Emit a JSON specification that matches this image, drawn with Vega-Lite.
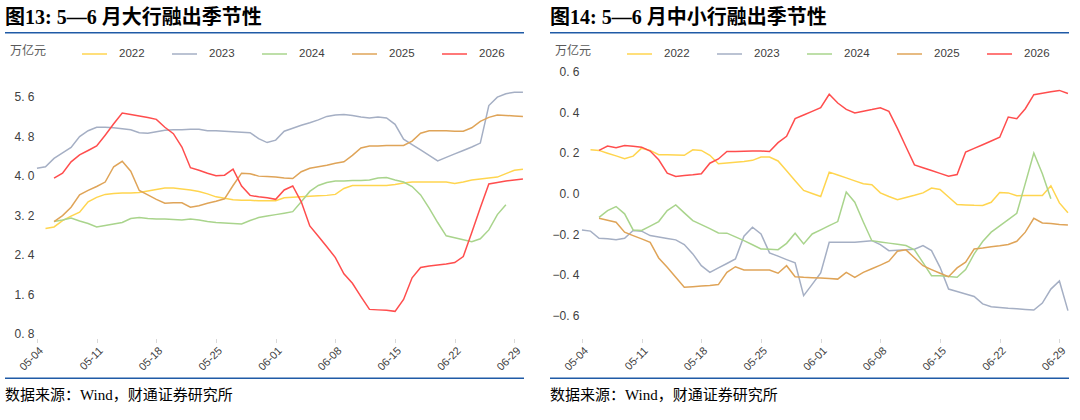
{
  "$schema": "https://vega.github.io/schema/vega-lite/v6.json",
  "background": "white",
  "padding": {"left": 5, "top": 8, "right": 5, "bottom": 5},
  "config": {
    "view": {"stroke": null},
    "font": "Liberation Sans",
    "axisX": {
      "format": "%m-%d", "labelAngle": -45, "labelFontSize": 11, "labelColor": "#404040",
      "tickSize": 4, "tickColor": "#d9d9d9", "domain": false, "grid": false,
      "title": null, "labelPadding": 2, "labelFlush": false, "labelOverlap": false
    },
    "axisY": {
      "domain": false, "ticks": false, "grid": false, "title": null, "offset": -32,
      "labelPadding": 3, "labelFontSize": 12, "labelColor": "#404040",
      "labelExpr": "replace(format(datum.value, '.1f'), '.', '. ')"
    },
    "legend": {
      "orient": "none", "legendX": 1, "legendY": -35, "direction": "horizontal", "columns": 5,
      "titleOrient": "left", "titlePadding": 34, "titleFont": "Noto Sans CJK SC",
      "titleFontSize": 12, "titleFontWeight": "normal", "titleColor": "#595959",
      "symbolType": "stroke", "symbolSize": 625, "symbolStrokeWidth": 1.5,
      "labelFontSize": 11.5, "labelColor": "#404040", "labelOffset": 11, "columnPadding": 24,
      "padding": 4
    },
    "title": {"font": "'Liberation Serif', 'Noto Sans CJK SC'", "color": "#000000", "anchor": "start"}
  },
  "resolve": {"scale": {"color": "independent"}, "legend": {"color": "independent"}},
  "columns": 2,
  "align": "none",
  "spacing": 24,
  "concat": [
    {
      "resolve": {"scale": {"color": "independent"}, "legend": {"color": "independent"}},
      "concat": [
        {
          "width": 519, "height": 1.5,
          "data": {"values": []},
          "mark": "point", "encoding": {},
          "view": {"fill": "#1F5AA6", "stroke": null},
          "title": {"text": "图13: 5—6 月大行融出季节性", "offset": 4, "fontSize": 20, "fontWeight": "bold"}
        },
        {
          "resolve": {"scale": {"color": "independent"}, "legend": {"color": "independent"}},
          "concat": [
            {
              "width": 519, "height": 267,
              "data": {
                "format": {"parse": {"d": "date:'%m-%d'"}},
                "values": [
                  {"d":"05-05","s":"2022","v":2.93},{"d":"05-06","s":"2022","v":2.96},{"d":"05-07","s":"2022","v":3.09},{"d":"05-08","s":"2022","v":3.18},{"d":"05-09","s":"2022","v":3.26},{"d":"05-10","s":"2022","v":3.47},{"d":"05-11","s":"2022","v":3.56},{"d":"05-12","s":"2022","v":3.62},{"d":"05-13","s":"2022","v":3.64},{"d":"05-14","s":"2022","v":3.65},{"d":"05-15","s":"2022","v":3.65},{"d":"05-16","s":"2022","v":3.66},{"d":"05-17","s":"2022","v":3.69},{"d":"05-18","s":"2022","v":3.72},{"d":"05-19","s":"2022","v":3.75},{"d":"05-20","s":"2022","v":3.75},{"d":"05-21","s":"2022","v":3.73},{"d":"05-22","s":"2022","v":3.71},{"d":"05-23","s":"2022","v":3.68},{"d":"05-24","s":"2022","v":3.63},{"d":"05-25","s":"2022","v":3.57},{"d":"05-26","s":"2022","v":3.54},{"d":"05-27","s":"2022","v":3.51},{"d":"05-28","s":"2022","v":3.50},{"d":"05-29","s":"2022","v":3.50},{"d":"05-30","s":"2022","v":3.49},{"d":"05-31","s":"2022","v":3.49},{"d":"06-01","s":"2022","v":3.49},{"d":"06-02","s":"2022","v":3.55},{"d":"06-03","s":"2022","v":3.56},{"d":"06-04","s":"2022","v":3.57},{"d":"06-05","s":"2022","v":3.58},{"d":"06-06","s":"2022","v":3.59},{"d":"06-07","s":"2022","v":3.60},{"d":"06-08","s":"2022","v":3.62},{"d":"06-09","s":"2022","v":3.74},{"d":"06-10","s":"2022","v":3.80},{"d":"06-11","s":"2022","v":3.80},{"d":"06-12","s":"2022","v":3.80},{"d":"06-13","s":"2022","v":3.80},{"d":"06-14","s":"2022","v":3.80},{"d":"06-15","s":"2022","v":3.82},{"d":"06-16","s":"2022","v":3.85},{"d":"06-17","s":"2022","v":3.87},{"d":"06-18","s":"2022","v":3.87},{"d":"06-19","s":"2022","v":3.87},{"d":"06-20","s":"2022","v":3.87},{"d":"06-21","s":"2022","v":3.87},{"d":"06-22","s":"2022","v":3.84},{"d":"06-23","s":"2022","v":3.87},{"d":"06-24","s":"2022","v":3.91},{"d":"06-25","s":"2022","v":3.93},{"d":"06-26","s":"2022","v":3.95},{"d":"06-27","s":"2022","v":3.97},{"d":"06-28","s":"2022","v":4.04},{"d":"06-29","s":"2022","v":4.11},{"d":"06-30","s":"2022","v":4.13},
                  {"d":"05-04","s":"2023","v":4.15},{"d":"05-05","s":"2023","v":4.18},{"d":"05-06","s":"2023","v":4.35},{"d":"05-07","s":"2023","v":4.46},{"d":"05-08","s":"2023","v":4.57},{"d":"05-09","s":"2023","v":4.79},{"d":"05-10","s":"2023","v":4.91},{"d":"05-11","s":"2023","v":4.98},{"d":"05-12","s":"2023","v":4.98},{"d":"05-13","s":"2023","v":4.97},{"d":"05-14","s":"2023","v":4.95},{"d":"05-15","s":"2023","v":4.93},{"d":"05-16","s":"2023","v":4.87},{"d":"05-17","s":"2023","v":4.86},{"d":"05-18","s":"2023","v":4.89},{"d":"05-19","s":"2023","v":4.92},{"d":"05-20","s":"2023","v":4.93},{"d":"05-21","s":"2023","v":4.93},{"d":"05-22","s":"2023","v":4.94},{"d":"05-23","s":"2023","v":4.94},{"d":"05-24","s":"2023","v":4.91},{"d":"05-25","s":"2023","v":4.91},{"d":"05-26","s":"2023","v":4.90},{"d":"05-27","s":"2023","v":4.89},{"d":"05-28","s":"2023","v":4.88},{"d":"05-29","s":"2023","v":4.87},{"d":"05-30","s":"2023","v":4.75},{"d":"05-31","s":"2023","v":4.67},{"d":"06-01","s":"2023","v":4.72},{"d":"06-02","s":"2023","v":4.90},{"d":"06-03","s":"2023","v":4.96},{"d":"06-04","s":"2023","v":5.02},{"d":"06-05","s":"2023","v":5.07},{"d":"06-06","s":"2023","v":5.13},{"d":"06-07","s":"2023","v":5.20},{"d":"06-08","s":"2023","v":5.23},{"d":"06-09","s":"2023","v":5.24},{"d":"06-10","s":"2023","v":5.22},{"d":"06-11","s":"2023","v":5.19},{"d":"06-12","s":"2023","v":5.17},{"d":"06-13","s":"2023","v":5.19},{"d":"06-14","s":"2023","v":5.17},{"d":"06-15","s":"2023","v":5.04},{"d":"06-16","s":"2023","v":4.74},{"d":"06-17","s":"2023","v":4.63},{"d":"06-18","s":"2023","v":4.52},{"d":"06-19","s":"2023","v":4.41},{"d":"06-20","s":"2023","v":4.30},{"d":"06-21","s":"2023","v":4.37},{"d":"06-22","s":"2023","v":4.44},{"d":"06-23","s":"2023","v":4.51},{"d":"06-24","s":"2023","v":4.58},{"d":"06-25","s":"2023","v":4.66},{"d":"06-26","s":"2023","v":5.42},{"d":"06-27","s":"2023","v":5.59},{"d":"06-28","s":"2023","v":5.66},{"d":"06-29","s":"2023","v":5.69},{"d":"06-30","s":"2023","v":5.69},
                  {"d":"05-06","s":"2024","v":3.07},{"d":"05-07","s":"2024","v":3.10},{"d":"05-08","s":"2024","v":3.14},{"d":"05-09","s":"2024","v":3.08},{"d":"05-10","s":"2024","v":3.03},{"d":"05-11","s":"2024","v":2.96},{"d":"05-12","s":"2024","v":2.99},{"d":"05-13","s":"2024","v":3.02},{"d":"05-14","s":"2024","v":3.05},{"d":"05-15","s":"2024","v":3.13},{"d":"05-16","s":"2024","v":3.15},{"d":"05-17","s":"2024","v":3.13},{"d":"05-18","s":"2024","v":3.12},{"d":"05-19","s":"2024","v":3.12},{"d":"05-20","s":"2024","v":3.11},{"d":"05-21","s":"2024","v":3.10},{"d":"05-22","s":"2024","v":3.12},{"d":"05-23","s":"2024","v":3.10},{"d":"05-24","s":"2024","v":3.07},{"d":"05-25","s":"2024","v":3.05},{"d":"05-26","s":"2024","v":3.04},{"d":"05-27","s":"2024","v":3.03},{"d":"05-28","s":"2024","v":3.02},{"d":"05-29","s":"2024","v":3.09},{"d":"05-30","s":"2024","v":3.15},{"d":"05-31","s":"2024","v":3.18},{"d":"06-01","s":"2024","v":3.21},{"d":"06-02","s":"2024","v":3.24},{"d":"06-03","s":"2024","v":3.27},{"d":"06-04","s":"2024","v":3.47},{"d":"06-05","s":"2024","v":3.68},{"d":"06-06","s":"2024","v":3.80},{"d":"06-07","s":"2024","v":3.86},{"d":"06-08","s":"2024","v":3.89},{"d":"06-09","s":"2024","v":3.89},{"d":"06-10","s":"2024","v":3.90},{"d":"06-11","s":"2024","v":3.90},{"d":"06-12","s":"2024","v":3.91},{"d":"06-13","s":"2024","v":3.95},{"d":"06-14","s":"2024","v":3.96},{"d":"06-15","s":"2024","v":3.91},{"d":"06-16","s":"2024","v":3.87},{"d":"06-17","s":"2024","v":3.78},{"d":"06-18","s":"2024","v":3.61},{"d":"06-19","s":"2024","v":3.34},{"d":"06-20","s":"2024","v":3.05},{"d":"06-21","s":"2024","v":2.78},{"d":"06-22","s":"2024","v":2.74},{"d":"06-23","s":"2024","v":2.70},{"d":"06-24","s":"2024","v":2.66},{"d":"06-25","s":"2024","v":2.72},{"d":"06-26","s":"2024","v":2.90},{"d":"06-27","s":"2024","v":3.21},{"d":"06-28","s":"2024","v":3.41},
                  {"d":"05-06","s":"2025","v":3.07},{"d":"05-07","s":"2025","v":3.19},{"d":"05-08","s":"2025","v":3.36},{"d":"05-09","s":"2025","v":3.61},{"d":"05-10","s":"2025","v":3.70},{"d":"05-11","s":"2025","v":3.78},{"d":"05-12","s":"2025","v":3.87},{"d":"05-13","s":"2025","v":4.18},{"d":"05-14","s":"2025","v":4.29},{"d":"05-15","s":"2025","v":4.09},{"d":"05-16","s":"2025","v":3.70},{"d":"05-17","s":"2025","v":3.61},{"d":"05-18","s":"2025","v":3.52},{"d":"05-19","s":"2025","v":3.44},{"d":"05-20","s":"2025","v":3.45},{"d":"05-21","s":"2025","v":3.45},{"d":"05-22","s":"2025","v":3.36},{"d":"05-23","s":"2025","v":3.39},{"d":"05-24","s":"2025","v":3.44},{"d":"05-25","s":"2025","v":3.48},{"d":"05-26","s":"2025","v":3.53},{"d":"05-27","s":"2025","v":3.80},{"d":"05-28","s":"2025","v":4.05},{"d":"05-29","s":"2025","v":4.04},{"d":"05-30","s":"2025","v":3.99},{"d":"05-31","s":"2025","v":3.98},{"d":"06-01","s":"2025","v":3.97},{"d":"06-02","s":"2025","v":3.95},{"d":"06-03","s":"2025","v":3.94},{"d":"06-04","s":"2025","v":4.08},{"d":"06-05","s":"2025","v":4.15},{"d":"06-06","s":"2025","v":4.18},{"d":"06-07","s":"2025","v":4.21},{"d":"06-08","s":"2025","v":4.25},{"d":"06-09","s":"2025","v":4.28},{"d":"06-10","s":"2025","v":4.41},{"d":"06-11","s":"2025","v":4.56},{"d":"06-12","s":"2025","v":4.60},{"d":"06-13","s":"2025","v":4.60},{"d":"06-14","s":"2025","v":4.61},{"d":"06-15","s":"2025","v":4.61},{"d":"06-16","s":"2025","v":4.61},{"d":"06-17","s":"2025","v":4.70},{"d":"06-18","s":"2025","v":4.86},{"d":"06-19","s":"2025","v":4.91},{"d":"06-20","s":"2025","v":4.91},{"d":"06-21","s":"2025","v":4.91},{"d":"06-22","s":"2025","v":4.90},{"d":"06-23","s":"2025","v":4.90},{"d":"06-24","s":"2025","v":4.97},{"d":"06-25","s":"2025","v":5.10},{"d":"06-26","s":"2025","v":5.18},{"d":"06-27","s":"2025","v":5.23},{"d":"06-28","s":"2025","v":5.22},{"d":"06-29","s":"2025","v":5.21},{"d":"06-30","s":"2025","v":5.20},
                  {"d":"05-06","s":"2026","v":3.95},{"d":"05-07","s":"2026","v":4.05},{"d":"05-08","s":"2026","v":4.28},{"d":"05-09","s":"2026","v":4.42},{"d":"05-10","s":"2026","v":4.51},{"d":"05-11","s":"2026","v":4.60},{"d":"05-12","s":"2026","v":4.82},{"d":"05-13","s":"2026","v":5.05},{"d":"05-14","s":"2026","v":5.27},{"d":"05-15","s":"2026","v":5.24},{"d":"05-16","s":"2026","v":5.21},{"d":"05-17","s":"2026","v":5.18},{"d":"05-18","s":"2026","v":5.14},{"d":"05-19","s":"2026","v":4.98},{"d":"05-20","s":"2026","v":4.85},{"d":"05-21","s":"2026","v":4.58},{"d":"05-22","s":"2026","v":4.16},{"d":"05-23","s":"2026","v":4.11},{"d":"05-24","s":"2026","v":4.05},{"d":"05-25","s":"2026","v":4.00},{"d":"05-26","s":"2026","v":4.01},{"d":"05-27","s":"2026","v":4.13},{"d":"05-28","s":"2026","v":3.79},{"d":"05-29","s":"2026","v":3.60},{"d":"05-30","s":"2026","v":3.57},{"d":"05-31","s":"2026","v":3.55},{"d":"06-01","s":"2026","v":3.52},{"d":"06-02","s":"2026","v":3.71},{"d":"06-03","s":"2026","v":3.79},{"d":"06-04","s":"2026","v":3.47},{"d":"06-05","s":"2026","v":2.98},{"d":"06-06","s":"2026","v":2.77},{"d":"06-07","s":"2026","v":2.56},{"d":"06-08","s":"2026","v":2.34},{"d":"06-09","s":"2026","v":2.01},{"d":"06-10","s":"2026","v":1.82},{"d":"06-11","s":"2026","v":1.55},{"d":"06-12","s":"2026","v":1.29},{"d":"06-13","s":"2026","v":1.28},{"d":"06-14","s":"2026","v":1.27},{"d":"06-15","s":"2026","v":1.25},{"d":"06-16","s":"2026","v":1.49},{"d":"06-17","s":"2026","v":1.93},{"d":"06-18","s":"2026","v":2.14},{"d":"06-19","s":"2026","v":2.17},{"d":"06-20","s":"2026","v":2.19},{"d":"06-21","s":"2026","v":2.21},{"d":"06-22","s":"2026","v":2.24},{"d":"06-23","s":"2026","v":2.36},{"d":"06-24","s":"2026","v":2.85},{"d":"06-25","s":"2026","v":3.35},{"d":"06-26","s":"2026","v":3.83},{"d":"06-27","s":"2026","v":3.86},{"d":"06-28","s":"2026","v":3.89},{"d":"06-29","s":"2026","v":3.91},{"d":"06-30","s":"2026","v":3.93}
                ]
              },
              "encoding": {
                "x": {"field": "d", "type": "temporal",
                  "scale": {"domain": [{"year": 1900, "month": 4, "date": 30, "hours": 6}, {"year": 1900, "month": 6, "date": 30, "hours": 3}]},
                  "axis": {"values": [
                    {"year": 1900, "month": 5, "date": 4}, {"year": 1900, "month": 5, "date": 11},
                    {"year": 1900, "month": 5, "date": 18}, {"year": 1900, "month": 5, "date": 25},
                    {"year": 1900, "month": 6, "date": 1}, {"year": 1900, "month": 6, "date": 8},
                    {"year": 1900, "month": 6, "date": 15}, {"year": 1900, "month": 6, "date": 22},
                    {"year": 1900, "month": 6, "date": 29}]}},
                "y": {"field": "v", "type": "quantitative", "scale": {"domain": [0.7, 6.11], "nice": false, "zero": false}, "axis": {"values": [0.8, 1.6, 2.4, 3.2, 4.0, 4.8, 5.6]}}
              },
              "layer": [
                {
                  "data": {"values": [{}]},
                  "mark": {"type": "rule", "color": "#d9d9d9", "strokeWidth": 1},
                  "encoding": {
                    "x": {"datum": {"year": 1900, "month": 5, "date": 4}, "type": "temporal"},
                    "x2": {"datum": {"year": 1900, "month": 6, "date": 30}},
                    "y": {"datum": 0.7, "type": "quantitative"}
                  }
                },
                {
                  "mark": {"type": "line", "strokeWidth": 1.5},
                  "encoding": {
                    "color": {"field": "s", "type": "nominal", "title": "万亿元",
                      "scale": {"domain": ["2022", "2023", "2024", "2025", "2026"], "range": ["#FFD54F", "#A5AFC4", "#A9D48C", "#DFA458", "#FF4D4D"]}}
                  }
                },
                {
                  "transform": [{"filter": {"and": [{"field": "s", "equal": "2026"}, {"field": "d", "equal": {"year": 1900, "month": 6, "date": 30}}]}}],
                  "mark": {"type": "point", "filled": true, "size": 14, "opacity": 1, "color": "#FF4D4D"}
                }
              ]
            },
            {
              "width": 519, "height": 1.5,
              "data": {"values": []},
              "mark": "point", "encoding": {},
              "view": {"fill": "#1F5AA6", "stroke": null},
              "title": {"text": "数据来源：Wind，财通证券研究所", "orient": "bottom", "offset": 9, "fontSize": 15, "fontWeight": "normal"}
            }
          ],
          "columns": 1, "align": "none", "spacing": 5
        }
      ],
      "columns": 1, "align": "none", "spacing": 2.5
    },
    {
      "resolve": {"scale": {"color": "independent"}, "legend": {"color": "independent"}},
      "concat": [
        {
          "width": 519, "height": 1.5,
          "data": {"values": []},
          "mark": "point", "encoding": {},
          "view": {"fill": "#1F5AA6", "stroke": null},
          "title": {"text": "图14: 5—6 月中小行融出季节性", "offset": 4, "fontSize": 20, "fontWeight": "bold"}
        },
        {
          "resolve": {"scale": {"color": "independent"}, "legend": {"color": "independent"}},
          "concat": [
            {
              "width": 519, "height": 267,
              "data": {
                "format": {"parse": {"d": "date:'%m-%d'"}},
                "values": [
                  {"d":"05-05","s":"2022","v":0.215},{"d":"05-06","s":"2022","v":0.212},{"d":"05-07","s":"2022","v":0.198},{"d":"05-08","s":"2022","v":0.185},{"d":"05-09","s":"2022","v":0.171},{"d":"05-10","s":"2022","v":0.184},{"d":"05-11","s":"2022","v":0.223},{"d":"05-12","s":"2022","v":0.212},{"d":"05-13","s":"2022","v":0.191},{"d":"05-14","s":"2022","v":0.190},{"d":"05-15","s":"2022","v":0.189},{"d":"05-16","s":"2022","v":0.188},{"d":"05-17","s":"2022","v":0.215},{"d":"05-18","s":"2022","v":0.212},{"d":"05-19","s":"2022","v":0.188},{"d":"05-20","s":"2022","v":0.146},{"d":"05-21","s":"2022","v":0.150},{"d":"05-22","s":"2022","v":0.154},{"d":"05-23","s":"2022","v":0.158},{"d":"05-24","s":"2022","v":0.163},{"d":"05-25","s":"2022","v":0.179},{"d":"05-26","s":"2022","v":0.179},{"d":"05-27","s":"2022","v":0.160},{"d":"05-28","s":"2022","v":0.112},{"d":"05-29","s":"2022","v":0.063},{"d":"05-30","s":"2022","v":0.015},{"d":"05-31","s":"2022","v":0.000},{"d":"06-01","s":"2022","v":-0.015},{"d":"06-02","s":"2022","v":0.105},{"d":"06-03","s":"2022","v":0.091},{"d":"06-04","s":"2022","v":0.077},{"d":"06-05","s":"2022","v":0.062},{"d":"06-06","s":"2022","v":0.048},{"d":"06-07","s":"2022","v":0.043},{"d":"06-08","s":"2022","v":0.003},{"d":"06-09","s":"2022","v":-0.015},{"d":"06-10","s":"2022","v":-0.031},{"d":"06-11","s":"2022","v":-0.020},{"d":"06-12","s":"2022","v":-0.009},{"d":"06-13","s":"2022","v":0.003},{"d":"06-14","s":"2022","v":0.027},{"d":"06-15","s":"2022","v":0.020},{"d":"06-16","s":"2022","v":-0.017},{"d":"06-17","s":"2022","v":-0.054},{"d":"06-18","s":"2022","v":-0.056},{"d":"06-19","s":"2022","v":-0.058},{"d":"06-20","s":"2022","v":-0.059},{"d":"06-21","s":"2022","v":-0.043},{"d":"06-22","s":"2022","v":0.005},{"d":"06-23","s":"2022","v":0.003},{"d":"06-24","s":"2022","v":-0.011},{"d":"06-25","s":"2022","v":-0.010},{"d":"06-26","s":"2022","v":-0.010},{"d":"06-27","s":"2022","v":-0.010},{"d":"06-28","s":"2022","v":0.038},{"d":"06-29","s":"2022","v":-0.046},{"d":"06-30","s":"2022","v":-0.095},
                  {"d":"05-04","s":"2023","v":-0.179},{"d":"05-05","s":"2023","v":-0.185},{"d":"05-06","s":"2023","v":-0.220},{"d":"05-07","s":"2023","v":-0.222},{"d":"05-08","s":"2023","v":-0.227},{"d":"05-09","s":"2023","v":-0.220},{"d":"05-10","s":"2023","v":-0.182},{"d":"05-11","s":"2023","v":-0.185},{"d":"05-12","s":"2023","v":-0.207},{"d":"05-13","s":"2023","v":-0.214},{"d":"05-14","s":"2023","v":-0.221},{"d":"05-15","s":"2023","v":-0.228},{"d":"05-16","s":"2023","v":-0.251},{"d":"05-17","s":"2023","v":-0.297},{"d":"05-18","s":"2023","v":-0.355},{"d":"05-19","s":"2023","v":-0.388},{"d":"05-20","s":"2023","v":-0.366},{"d":"05-21","s":"2023","v":-0.344},{"d":"05-22","s":"2023","v":-0.322},{"d":"05-23","s":"2023","v":-0.210},{"d":"05-24","s":"2023","v":-0.166},{"d":"05-25","s":"2023","v":-0.199},{"d":"05-26","s":"2023","v":-0.292},{"d":"05-27","s":"2023","v":-0.308},{"d":"05-28","s":"2023","v":-0.325},{"d":"05-29","s":"2023","v":-0.341},{"d":"05-30","s":"2023","v":-0.502},{"d":"05-31","s":"2023","v":-0.447},{"d":"06-01","s":"2023","v":-0.391},{"d":"06-02","s":"2023","v":-0.240},{"d":"06-03","s":"2023","v":-0.240},{"d":"06-04","s":"2023","v":-0.240},{"d":"06-05","s":"2023","v":-0.240},{"d":"06-06","s":"2023","v":-0.236},{"d":"06-07","s":"2023","v":-0.232},{"d":"06-08","s":"2023","v":-0.251},{"d":"06-09","s":"2023","v":-0.281},{"d":"06-10","s":"2023","v":-0.279},{"d":"06-11","s":"2023","v":-0.277},{"d":"06-12","s":"2023","v":-0.274},{"d":"06-13","s":"2023","v":-0.256},{"d":"06-14","s":"2023","v":-0.281},{"d":"06-15","s":"2023","v":-0.363},{"d":"06-16","s":"2023","v":-0.470},{"d":"06-17","s":"2023","v":-0.482},{"d":"06-18","s":"2023","v":-0.494},{"d":"06-19","s":"2023","v":-0.506},{"d":"06-20","s":"2023","v":-0.543},{"d":"06-21","s":"2023","v":-0.557},{"d":"06-22","s":"2023","v":-0.560},{"d":"06-23","s":"2023","v":-0.564},{"d":"06-24","s":"2023","v":-0.567},{"d":"06-25","s":"2023","v":-0.570},{"d":"06-26","s":"2023","v":-0.573},{"d":"06-27","s":"2023","v":-0.539},{"d":"06-28","s":"2023","v":-0.470},{"d":"06-29","s":"2023","v":-0.430},{"d":"06-30","s":"2023","v":-0.576},
                  {"d":"05-06","s":"2024","v":-0.117},{"d":"05-07","s":"2024","v":-0.084},{"d":"05-08","s":"2024","v":-0.064},{"d":"05-09","s":"2024","v":-0.100},{"d":"05-10","s":"2024","v":-0.179},{"d":"05-11","s":"2024","v":-0.182},{"d":"05-12","s":"2024","v":-0.160},{"d":"05-13","s":"2024","v":-0.138},{"d":"05-14","s":"2024","v":-0.084},{"d":"05-15","s":"2024","v":-0.056},{"d":"05-16","s":"2024","v":-0.095},{"d":"05-17","s":"2024","v":-0.133},{"d":"05-18","s":"2024","v":-0.153},{"d":"05-19","s":"2024","v":-0.173},{"d":"05-20","s":"2024","v":-0.194},{"d":"05-21","s":"2024","v":-0.195},{"d":"05-22","s":"2024","v":-0.213},{"d":"05-23","s":"2024","v":-0.232},{"d":"05-24","s":"2024","v":-0.252},{"d":"05-25","s":"2024","v":-0.273},{"d":"05-26","s":"2024","v":-0.274},{"d":"05-27","s":"2024","v":-0.276},{"d":"05-28","s":"2024","v":-0.245},{"d":"05-29","s":"2024","v":-0.195},{"d":"05-30","s":"2024","v":-0.248},{"d":"05-31","s":"2024","v":-0.199},{"d":"06-01","s":"2024","v":-0.179},{"d":"06-02","s":"2024","v":-0.158},{"d":"06-03","s":"2024","v":-0.138},{"d":"06-04","s":"2024","v":0.007},{"d":"06-05","s":"2024","v":-0.043},{"d":"06-06","s":"2024","v":-0.140},{"d":"06-07","s":"2024","v":-0.232},{"d":"06-08","s":"2024","v":-0.238},{"d":"06-09","s":"2024","v":-0.244},{"d":"06-10","s":"2024","v":-0.250},{"d":"06-11","s":"2024","v":-0.256},{"d":"06-12","s":"2024","v":-0.277},{"d":"06-13","s":"2024","v":-0.340},{"d":"06-14","s":"2024","v":-0.404},{"d":"06-15","s":"2024","v":-0.404},{"d":"06-16","s":"2024","v":-0.408},{"d":"06-17","s":"2024","v":-0.412},{"d":"06-18","s":"2024","v":-0.374},{"d":"06-19","s":"2024","v":-0.297},{"d":"06-20","s":"2024","v":-0.236},{"d":"06-21","s":"2024","v":-0.190},{"d":"06-22","s":"2024","v":-0.159},{"d":"06-23","s":"2024","v":-0.128},{"d":"06-24","s":"2024","v":-0.097},{"d":"06-25","s":"2024","v":0.050},{"d":"06-26","s":"2024","v":0.199},{"d":"06-27","s":"2024","v":0.097},{"d":"06-28","s":"2024","v":-0.026},
                  {"d":"05-06","s":"2025","v":-0.122},{"d":"05-07","s":"2025","v":-0.131},{"d":"05-08","s":"2025","v":-0.141},{"d":"05-09","s":"2025","v":-0.190},{"d":"05-10","s":"2025","v":-0.207},{"d":"05-11","s":"2025","v":-0.223},{"d":"05-12","s":"2025","v":-0.240},{"d":"05-13","s":"2025","v":-0.317},{"d":"05-14","s":"2025","v":-0.363},{"d":"05-15","s":"2025","v":-0.412},{"d":"05-16","s":"2025","v":-0.461},{"d":"05-17","s":"2025","v":-0.458},{"d":"05-18","s":"2025","v":-0.455},{"d":"05-19","s":"2025","v":-0.452},{"d":"05-20","s":"2025","v":-0.448},{"d":"05-21","s":"2025","v":-0.388},{"d":"05-22","s":"2025","v":-0.360},{"d":"05-23","s":"2025","v":-0.376},{"d":"05-24","s":"2025","v":-0.376},{"d":"05-25","s":"2025","v":-0.376},{"d":"05-26","s":"2025","v":-0.376},{"d":"05-27","s":"2025","v":-0.392},{"d":"05-28","s":"2025","v":-0.355},{"d":"05-29","s":"2025","v":-0.409},{"d":"05-30","s":"2025","v":-0.412},{"d":"05-31","s":"2025","v":-0.414},{"d":"06-01","s":"2025","v":-0.416},{"d":"06-02","s":"2025","v":-0.418},{"d":"06-03","s":"2025","v":-0.421},{"d":"06-04","s":"2025","v":-0.388},{"d":"06-05","s":"2025","v":-0.412},{"d":"06-06","s":"2025","v":-0.388},{"d":"06-07","s":"2025","v":-0.370},{"d":"06-08","s":"2025","v":-0.352},{"d":"06-09","s":"2025","v":-0.333},{"d":"06-10","s":"2025","v":-0.284},{"d":"06-11","s":"2025","v":-0.277},{"d":"06-12","s":"2025","v":-0.316},{"d":"06-13","s":"2025","v":-0.355},{"d":"06-14","s":"2025","v":-0.374},{"d":"06-15","s":"2025","v":-0.392},{"d":"06-16","s":"2025","v":-0.409},{"d":"06-17","s":"2025","v":-0.366},{"d":"06-18","s":"2025","v":-0.338},{"d":"06-19","s":"2025","v":-0.273},{"d":"06-20","s":"2025","v":-0.268},{"d":"06-21","s":"2025","v":-0.262},{"d":"06-22","s":"2025","v":-0.257},{"d":"06-23","s":"2025","v":-0.251},{"d":"06-24","s":"2025","v":-0.235},{"d":"06-25","s":"2025","v":-0.190},{"d":"06-26","s":"2025","v":-0.122},{"d":"06-27","s":"2025","v":-0.145},{"d":"06-28","s":"2025","v":-0.148},{"d":"06-29","s":"2025","v":-0.152},{"d":"06-30","s":"2025","v":-0.155},
                  {"d":"05-06","s":"2026","v":0.212},{"d":"05-07","s":"2026","v":0.233},{"d":"05-08","s":"2026","v":0.225},{"d":"05-09","s":"2026","v":0.236},{"d":"05-10","s":"2026","v":0.232},{"d":"05-11","s":"2026","v":0.228},{"d":"05-12","s":"2026","v":0.209},{"d":"05-13","s":"2026","v":0.166},{"d":"05-14","s":"2026","v":0.100},{"d":"05-15","s":"2026","v":0.084},{"d":"05-16","s":"2026","v":0.088},{"d":"05-17","s":"2026","v":0.092},{"d":"05-18","s":"2026","v":0.097},{"d":"05-19","s":"2026","v":0.149},{"d":"05-20","s":"2026","v":0.170},{"d":"05-21","s":"2026","v":0.207},{"d":"05-22","s":"2026","v":0.207},{"d":"05-23","s":"2026","v":0.208},{"d":"05-24","s":"2026","v":0.209},{"d":"05-25","s":"2026","v":0.209},{"d":"05-26","s":"2026","v":0.207},{"d":"05-27","s":"2026","v":0.250},{"d":"05-28","s":"2026","v":0.281},{"d":"05-29","s":"2026","v":0.368},{"d":"05-30","s":"2026","v":0.386},{"d":"05-31","s":"2026","v":0.404},{"d":"06-01","s":"2026","v":0.422},{"d":"06-02","s":"2026","v":0.488},{"d":"06-03","s":"2026","v":0.445},{"d":"06-04","s":"2026","v":0.414},{"d":"06-05","s":"2026","v":0.396},{"d":"06-06","s":"2026","v":0.405},{"d":"06-07","s":"2026","v":0.413},{"d":"06-08","s":"2026","v":0.422},{"d":"06-09","s":"2026","v":0.404},{"d":"06-10","s":"2026","v":0.320},{"d":"06-11","s":"2026","v":0.230},{"d":"06-12","s":"2026","v":0.141},{"d":"06-13","s":"2026","v":0.127},{"d":"06-14","s":"2026","v":0.113},{"d":"06-15","s":"2026","v":0.099},{"d":"06-16","s":"2026","v":0.085},{"d":"06-17","s":"2026","v":0.093},{"d":"06-18","s":"2026","v":0.204},{"d":"06-19","s":"2026","v":0.222},{"d":"06-20","s":"2026","v":0.240},{"d":"06-21","s":"2026","v":0.258},{"d":"06-22","s":"2026","v":0.277},{"d":"06-23","s":"2026","v":0.376},{"d":"06-24","s":"2026","v":0.368},{"d":"06-25","s":"2026","v":0.417},{"d":"06-26","s":"2026","v":0.486},{"d":"06-27","s":"2026","v":0.493},{"d":"06-28","s":"2026","v":0.500},{"d":"06-29","s":"2026","v":0.507},{"d":"06-30","s":"2026","v":0.492}
                ]
              },
              "encoding": {
                "x": {"field": "d", "type": "temporal",
                  "scale": {"domain": [{"year": 1900, "month": 4, "date": 30, "hours": 6}, {"year": 1900, "month": 6, "date": 30, "hours": 3}]},
                  "axis": {"values": [
                    {"year": 1900, "month": 5, "date": 4}, {"year": 1900, "month": 5, "date": 11},
                    {"year": 1900, "month": 5, "date": 18}, {"year": 1900, "month": 5, "date": 25},
                    {"year": 1900, "month": 6, "date": 1}, {"year": 1900, "month": 6, "date": 8},
                    {"year": 1900, "month": 6, "date": 15}, {"year": 1900, "month": 6, "date": 22},
                    {"year": 1900, "month": 6, "date": 29}]}},
                "y": {"field": "v", "type": "quantitative", "scale": {"domain": [-0.713, 0.6], "nice": false, "zero": false}, "axis": {"values": [-0.6, -0.4, -0.2, 0.0, 0.2, 0.4, 0.6]}}
              },
              "layer": [
                {
                  "data": {"values": [{}]},
                  "mark": {"type": "rule", "color": "#d9d9d9", "strokeWidth": 1},
                  "encoding": {
                    "x": {"datum": {"year": 1900, "month": 5, "date": 4}, "type": "temporal"},
                    "x2": {"datum": {"year": 1900, "month": 6, "date": 30}},
                    "y": {"datum": -0.713, "type": "quantitative"}
                  }
                },
                {
                  "mark": {"type": "line", "strokeWidth": 1.5},
                  "encoding": {
                    "color": {"field": "s", "type": "nominal", "title": "万亿元",
                      "scale": {"domain": ["2022", "2023", "2024", "2025", "2026"], "range": ["#FFD54F", "#A5AFC4", "#A9D48C", "#DFA458", "#FF4D4D"]}}
                  }
                },
                {
                  "transform": [{"filter": {"and": [{"field": "s", "equal": "2026"}, {"field": "d", "equal": {"year": 1900, "month": 6, "date": 30}}]}}],
                  "mark": {"type": "point", "filled": true, "size": 14, "opacity": 1, "color": "#FF4D4D"}
                }
              ]
            },
            {
              "width": 519, "height": 1.5,
              "data": {"values": []},
              "mark": "point", "encoding": {},
              "view": {"fill": "#1F5AA6", "stroke": null},
              "title": {"text": "数据来源：Wind，财通证券研究所", "orient": "bottom", "offset": 9, "fontSize": 15, "fontWeight": "normal"}
            }
          ],
          "columns": 1, "align": "none", "spacing": 5
        }
      ],
      "columns": 1, "align": "none", "spacing": 2.5
    }
  ]
}
